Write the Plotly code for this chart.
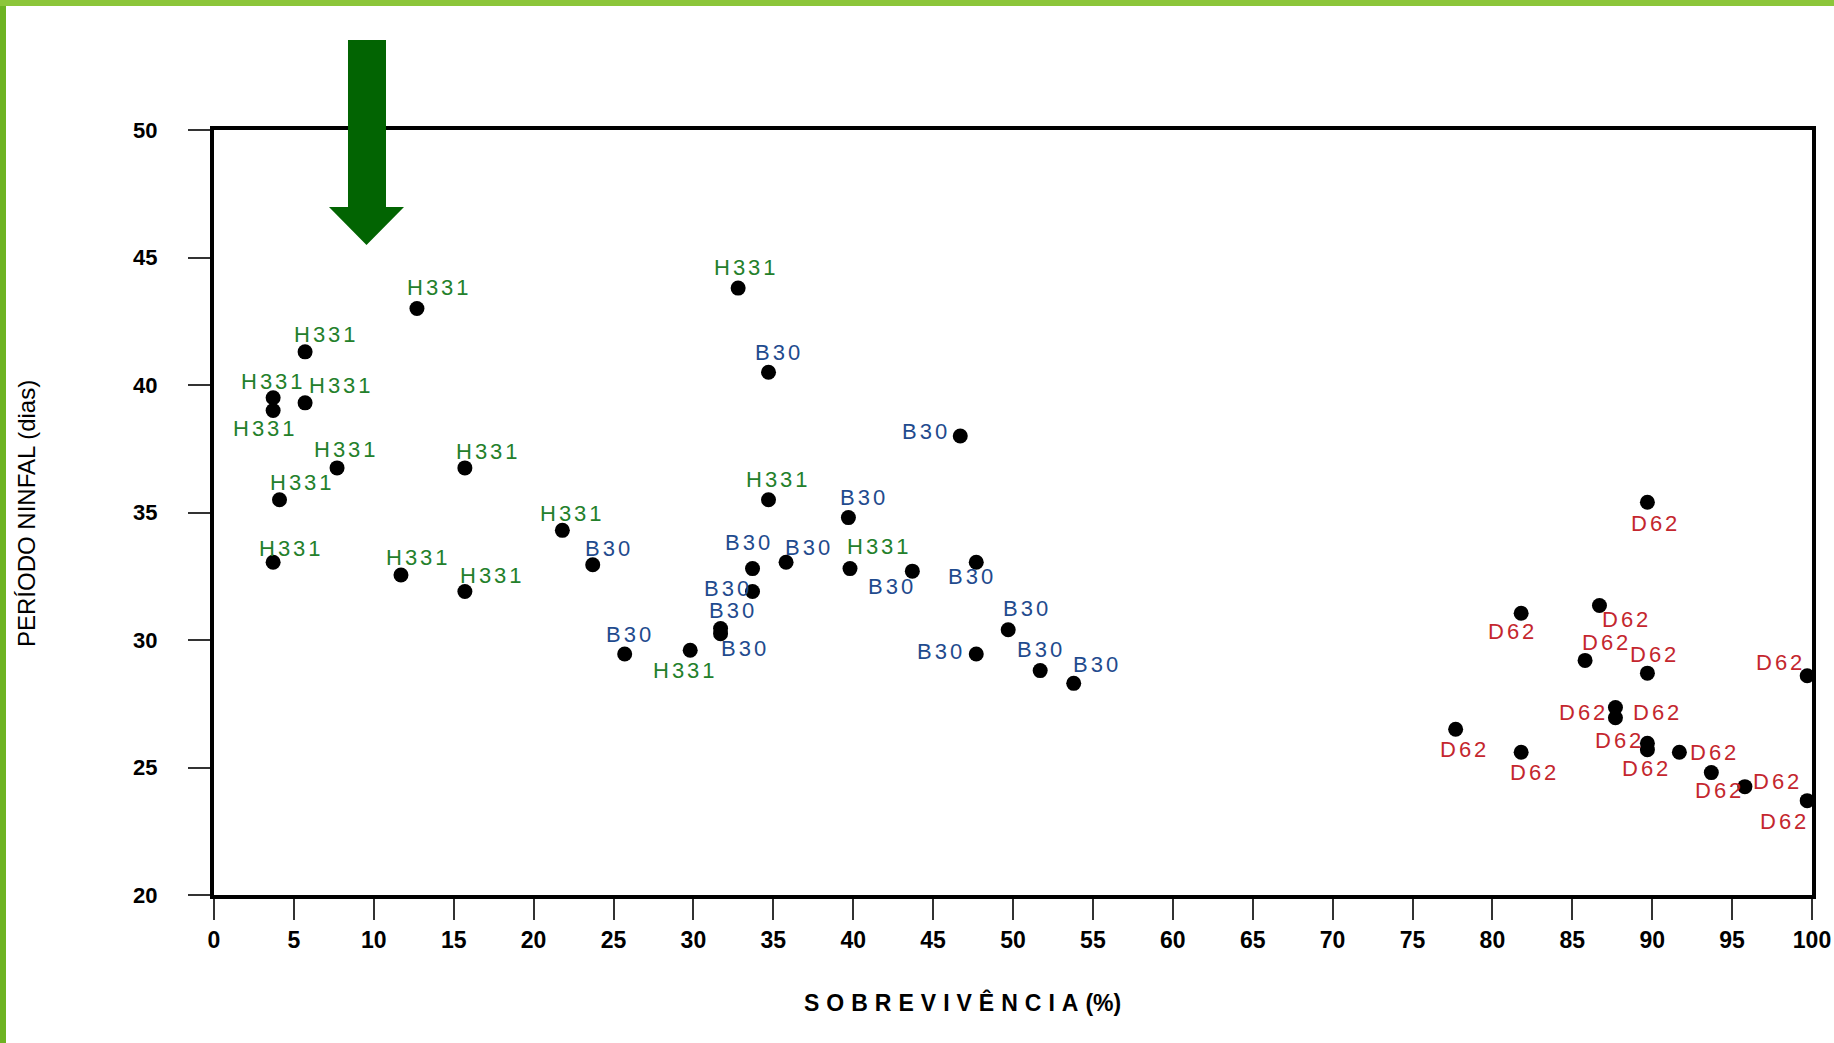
import plotly.graph_objects as go

# ---- data: survival (%) vs nymphal period (days) per population ----
h331_x = [12.7, 5.7, 3.7, 3.7, 5.7, 7.7, 4.1, 3.7, 11.7, 15.7, 15.7, 21.8, 32.8, 29.8, 34.7, 39.8]
h331_y = [43.0, 41.3, 39.5, 39.0, 39.3, 36.75, 35.5, 33.05, 32.55, 31.9, 36.75, 34.3, 43.8, 29.6, 35.5, 32.8]

b30_x = [34.7, 46.7, 39.7, 23.7, 33.7, 35.8, 33.7, 31.7, 31.7, 25.7, 43.7, 47.7, 49.7, 47.7, 51.7, 53.8]
b30_y = [40.5, 38.0, 34.8, 32.95, 32.8, 33.05, 31.9, 30.45, 30.25, 29.45, 32.7, 33.05, 30.4, 29.45, 28.8, 28.3]

d62_x = [89.7, 81.8, 86.7, 85.8, 89.7, 99.7, 87.7, 87.7, 89.7, 89.7, 91.7, 77.7, 81.8, 93.7, 95.8, 99.7]
d62_y = [35.4, 31.05, 31.35, 29.2, 28.7, 28.6, 27.35, 26.95, 25.95, 25.7, 25.6, 26.5, 25.6, 24.8, 24.25, 23.7]

group_names = ["H331", "B30", "D62"]
x_ticks = list(range(0, 101, 5))
y_ticks = list(range(20, 51, 5))

# ---- label placement (pixel offsets of each label from its point) ----
h331_off = [(18, -18), (17, -15), (-1, -14), (-8, 15), (30, -15), (7, -16), (18, -15), (14, -12),
            (14, -15), (22, -14), (19, -14), (7, -14), (6, -18), (-5, 17), (7, -17), (24, -19)]
b30_off = [(8, -17), (-31, -4), (12, -17), (13, -14), (-4, -22), (18, -13), (-22, -3), (9, -15),
           (20, 13), (3, -17), (-19, 13), (-5, 12), (15, -18), (-31, -2), (-1, -18), (19, -16)]
d62_off = [(6, 18), (-9, 16), (22, 12), (17, -15), (5, -16), (-24, -11), (-29, 4), (2, 19),
           (7, -26), (-2, 16), (29, 0), (6, 17), (10, 17), (6, 15), (27, -4), (-21, 18)]

colors = {"H331": "#23802b", "B30": "#1f4b8e", "D62": "#c4262e"}

W, H = 1834, 1043
ML, MR, MT, MB = 214, 22, 130, 148
PW, PH = W - ML - MR, H - MT - MB


def pxx(v):
    return (v - ML) / PW


def pxy(v):
    return (H - MB - v) / PH


fig = go.Figure()

groups = [(h331_x, h331_y, h331_off), (b30_x, b30_y, b30_off), (d62_x, d62_y, d62_off)]
SCALE = 1.17
for name, (xs, ys, offs) in zip(group_names, groups):
    fig.add_trace(go.Scatter(
        x=xs, y=ys, mode="markers", name=name, showlegend=False,
        marker=dict(color="black", size=15, line=dict(width=0)),
        cliponaxis=False,
    ))
    for xv, yv, (dx, dy) in zip(xs, ys, offs):
        fig.add_annotation(
            x=xv, y=yv, xref="x", yref="y", showarrow=False,
            text=f"<span style='letter-spacing:3px'>{name}</span>",
            xshift=dx * SCALE + 1.5, yshift=-dy * SCALE,
            font=dict(family="Liberation Sans, Arial, sans-serif", size=22, color=colors[name]),
        )

axis_common = dict(
    showline=True, linecolor="black", linewidth=4, mirror=True,
    ticks="outside", tickcolor="#333333", tickwidth=2,
    showgrid=False, zeroline=False, automargin=False,
)

fig.update_xaxes(
    range=[0, 100], tickvals=x_ticks, ticktext=[str(t) for t in x_ticks],
    ticklen=21, ticklabelstandoff=0,
    tickfont=dict(family="Liberation Sans, Arial, sans-serif",
                  size=23, color="black", weight="bold"),
    **axis_common,
)
fig.update_yaxes(
    range=[20, 50], tickvals=y_ticks, ticktext=[str(t) for t in y_ticks],
    ticklen=22, ticklabelstandoff=26,
    tickfont=dict(family="Liberation Sans, Arial, sans-serif", size=22, color="black", weight="bold"),
    **axis_common,
)

# axis titles
fig.add_annotation(
    xref="paper", yref="paper", x=pxx(962), y=pxy(1002), showarrow=False,
    xanchor="center", yanchor="middle",
    text="<span style='letter-spacing:7px'>SOBREVIVÊNCIA</span>(%)",
    font=dict(family="Liberation Sans, Arial, sans-serif", size=23, color="black", weight="bold"),
)
fig.add_annotation(
    xref="paper", yref="paper", x=pxx(26), y=pxy(514), showarrow=False,
    xanchor="center", yanchor="middle", textangle=-90,
    text="PERÍODO NINFAL (dias)",
    font=dict(family="Liberation Sans, Arial, sans-serif", size=24, color="black"),
)

# green frame strips and the highlight arrow
shapes = [
    dict(type="rect", xref="paper", yref="paper", x0=pxx(0), x1=pxx(6), y0=pxy(H), y1=pxy(0),
         fillcolor="#6db322", line=dict(width=0), layer="above"),
    dict(type="rect", xref="paper", yref="paper", x0=pxx(0), x1=pxx(W), y0=pxy(6), y1=pxy(0),
         fillcolor="#8cc63a", line=dict(width=0), layer="above"),
]
arrow_pts = [(348, 40), (386, 40), (386, 207), (404, 207), (366.5, 245), (329, 207), (348, 207)]
path = "M " + " L ".join(f"{pxx(a):.5f},{pxy(b):.5f}" for a, b in arrow_pts) + " Z"
shapes.append(dict(type="path", xref="paper", yref="paper", path=path,
                   fillcolor="#026402", line=dict(width=0), layer="above"))

fig.update_layout(
    width=W, height=H,
    margin=dict(l=ML, r=MR, t=MT, b=MB, pad=0, autoexpand=False),
    paper_bgcolor="white", plot_bgcolor="white",
    shapes=shapes,
    showlegend=False,
)

fig.write_html("out.html")
